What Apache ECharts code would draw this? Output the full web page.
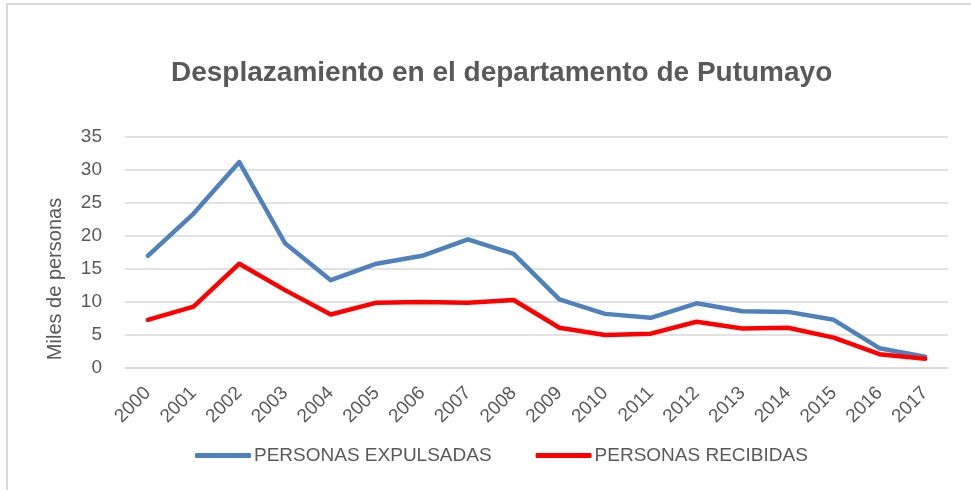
<!DOCTYPE html>
<html>
<head>
<meta charset="utf-8">
<script src="https://cdn.jsdelivr.net/npm/echarts@6/dist/echarts.min.js"></script>
<style>
  html, body { margin: 0; padding: 0; background: #fff; }
  #chart { width: 971px; height: 490px; }
</style>
</head>
<body>
<div id="chart"></div>
<script>
// datos (miles de personas)
var years = ['2000', '2001', '2002', '2003', '2004', '2005', '2006', '2007', '2008',
  '2009', '2010', '2011', '2012', '2013', '2014', '2015', '2016', '2017'];
var expulsadas = [17.0, 23.4, 31.2, 18.9, 13.3, 15.8, 17.0, 19.5, 17.3,
  10.4, 8.2, 7.6, 9.8, 8.6, 8.5, 7.3, 3.0, 1.7];
var recibidas = [7.3, 9.3, 15.8, 11.8, 8.1, 9.9, 10.0, 9.9, 10.3,
  6.1, 5.0, 5.2, 7.0, 6.0, 6.1, 4.6, 2.1, 1.4];
var yTicks = [0, 5, 10, 15, 20, 25, 30, 35];

var textColor = '#595959';
var font = "'Liberation Sans', Arial, sans-serif";

var chart = echarts.init(document.getElementById('chart'));
chart.setOption({
  animation: false,
  textStyle: { fontFamily: font },
  graphic: [
    {
      type: 'rect',
      shape: { x: 7, y: 4, width: 990, height: 500 },
      style: { fill: 'none', stroke: '#d9d9d9', lineWidth: 2 },
      silent: true
    },
    {
      type: 'text',
      x: 55,
      y: 279,
      rotation: Math.PI / 2,
      style: {
        text: 'Miles de personas',
        fill: textColor,
        font: "20px 'Liberation Sans', Arial, sans-serif",
        align: 'center',
        verticalAlign: 'middle'
      },
      silent: true
    }
  ],
  title: {
    text: 'Desplazamiento en el departamento de Putumayo',
    left: 171,
    top: 59,
    padding: 0,
    textStyle: { color: textColor, fontSize: 28, fontWeight: 'bold', fontFamily: font }
  },
  grid: { left: 125, right: 23, top: 137, bottom: 122 },
  legend: {
    top: 446,
    left: 195,
    padding: 0,
    itemWidth: 56,
    itemHeight: 5,
    itemGap: 44,
    icon: 'roundRect',
    textStyle: { color: textColor, fontSize: 19, fontFamily: font, padding: [0, 0, 0, -2] },
    data: ['PERSONAS EXPULSADAS', 'PERSONAS RECIBIDAS']
  },
  xAxis: {
    type: 'category',
    data: years,
    boundaryGap: true,
    axisLine: { lineStyle: { color: '#d9d9d9', width: 1.5 } },
    axisTick: { show: false },
    axisLabel: { color: textColor, fontSize: 19, rotate: 45, margin: 22, interval: 0 }
  },
  yAxis: {
    type: 'value',
    min: yTicks[0],
    max: yTicks[yTicks.length - 1],
    interval: 5,
    axisLine: { show: false },
    axisTick: { show: false },
    axisLabel: { color: textColor, fontSize: 19, margin: 23 },
    splitLine: { lineStyle: { color: '#d9d9d9', width: 1.5 } }
  },
  series: [
    {
      name: 'PERSONAS EXPULSADAS',
      type: 'line',
      data: expulsadas,
      symbol: 'none',
      itemStyle: { color: '#4f81bd' },
      lineStyle: { color: '#4f81bd', width: 4.5, join: 'round', cap: 'round' }
    },
    {
      name: 'PERSONAS RECIBIDAS',
      type: 'line',
      data: recibidas,
      symbol: 'none',
      itemStyle: { color: '#ff0000' },
      lineStyle: { color: '#ff0000', width: 4.5, join: 'round', cap: 'round' }
    }
  ]
});
</script>
</body>
</html>
